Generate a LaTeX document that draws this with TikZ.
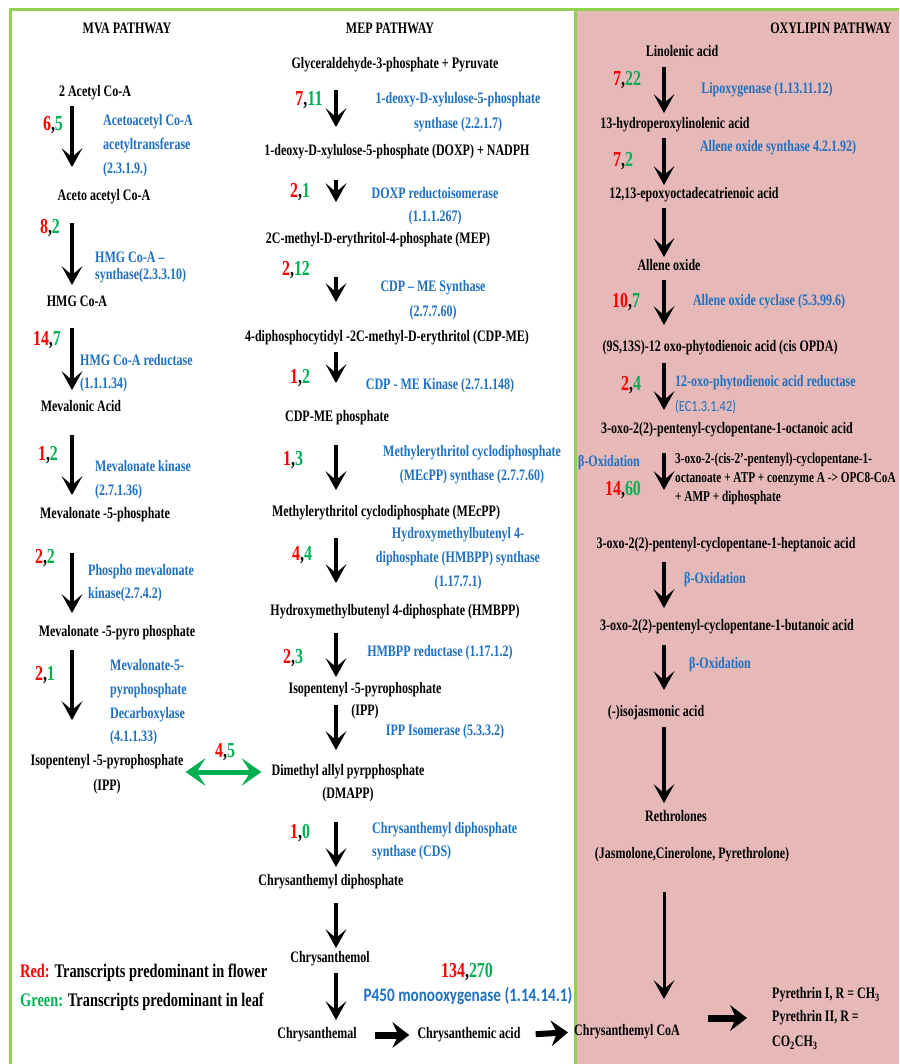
\documentclass[tikz,border=0pt]{standalone}
\usepackage{xcolor}
\usepackage{fontspec}
\setmainfont{Liberation Serif}[FakeStretch=0.75]
\newfontfamily\calfont{Carlito}[FakeStretch=0.8]
\usepackage{tikz}
\usetikzlibrary{arrows.meta, positioning, calc}
\definecolor{myred}{RGB}{255,0,0}
\definecolor{mygreen}{RGB}{0,176,80}
\definecolor{myblue}{RGB}{30,112,192}
\definecolor{myframe}{RGB}{146,208,80}
\definecolor{mypink}{RGB}{230,185,184}
\newcommand{\rg}[2]{\textcolor{myred}{#1},\textcolor{mygreen}{#2}}
\tikzset{
  cpd/.style={inner sep=0pt, text height=10.5pt, text depth=3pt,
    font=\fontsize{16}{19}\selectfont\bfseries},
  enz/.style={inner sep=0pt, text=myblue,
    font=\fontsize{16}{24}\selectfont\bfseries},
  cnt/.style={inner sep=0pt, font=\fontsize{21.3}{24}\selectfont\bfseries},
  leg/.style={inner sep=0pt, font=\fontsize{19.2}{22}\selectfont\bfseries},
  arrow/.style={-{Stealth[length=19pt, width=21pt, inset=9pt, line width=0pt]},
    line width=4pt, color=black},
  bigarrow/.style={-{Stealth[length=17pt, width=26pt, inset=6pt, line width=0pt]},
    line width=7pt, color=black},
  dblarrow/.style={{Stealth[length=20pt, width=28pt, inset=9pt, line width=0pt]}-{Stealth[length=20pt, width=28pt, inset=9pt, line width=0pt]},
    line width=5pt, color=mygreen}
}

\begin{document}
\begin{tikzpicture}[x=1pt, y=-1pt]
  \useasboundingbox (0,0) rectangle (899,1064);

  % Panels
  \fill[mypink] (575,10) rectangle (899,1064);
  \draw[myframe, line width=3pt] (10,1064) -- (10,10) -- (899,10);
  \draw[myframe, line width=3pt] (575,10) -- (575,1064);
  \coordinate (mvax) at (72,0);
  \coordinate (mepx) at (336,0);
  \coordinate (oxyx) at (664,0);

  % MVA pathway
  \node[cpd] (mvahdr) at (127,30) {MVA PATHWAY};
  \node[cpd] (acetyl) at (95,93) {2 Acetyl Co-A};
  \node[cpd] (aceto) at (104,197) {Aceto acetyl Co-A};
  \node[cpd] (hmg) at (77,303) {HMG Co-A};
  \node[cpd] (mevac) at (81,408) {Mevalonic Acid};
  \node[cpd] (mvp) at (105,515) {Mevalonate -5-phosphate};
  \node[cpd] (mvpp) at (117,633) {Mevalonate -5-pyro phosphate};
  \node[cpd] (ippa) at (107,762) {Isopentenyl -5-pyrophosphate};
  \node[cpd, below=11pt of ippa] (ippalbl) {(IPP)};

  \node[cnt] (c1) at (53,125) {\rg{6}{5}};
  \node[cnt] (c2) at (50,228) {\rg{8}{2}};
  \node[cnt] (c3) at (47,340) {\rg{14}{7}};
  \node[cnt] (c4) at (48,455) {\rg{1}{2}};
  \node[cnt] (c5) at (45,558) {\rg{2}{2}};
  \node[cnt] (c6) at (45,675) {\rg{2}{1}};

  \node[enz, anchor=west, align=left] (acat) at (103,145.5) {Acetoacetyl Co-A\\acetyltransferase\\(2.3.1.9.)};
  \node[enz, anchor=west, align=left, font=\fontsize{16}{17}\selectfont\bfseries] (hmgs) at (95,267) {HMG Co-A --\\synthase(2.3.3.10)};
  \node[enz, anchor=west, align=left, font=\fontsize{16}{23}\selectfont\bfseries] (hmgr) at (80,373.5) {HMG Co-A reductase\\(1.1.1.34)};
  \node[enz, anchor=west, align=left] (mvk) at (95,480) {Mevalonate kinase\\(2.7.1.36)};
  \node[enz, anchor=west, align=left, font=\fontsize{16}{23}\selectfont\bfseries] (pmk) at (88,583.5) {Phospho mevalonate\\kinase(2.7.4.2)};
  \node[enz, anchor=west, align=left, font=\fontsize{16}{23.7}\selectfont\bfseries] (mvd) at (110,702.5) {Mevalonate-5-\\pyrophosphate\\Decarboxylase\\(4.1.1.33)};

  \draw[arrow, shorten <=6pt, shorten >=23pt] (acetyl.south -| mvax) -- (aceto.north -| mvax);
  \draw[arrow, shorten <=19pt, shorten >=11pt] (aceto.south -| mvax) -- (hmg.north -| mvax);
  \draw[arrow, shorten <=18pt, shorten >=11pt] (hmg.south -| mvax) -- (mevac.north -| mvax);
  \draw[arrow, shorten <=20pt, shorten >=13pt] (mevac.south -| mvax) -- (mvp.north -| mvax);
  \draw[arrow, shorten <=31pt, shorten >=13pt] (mvp.south -| mvax) -- (mvpp.north -| mvax);
  \draw[arrow, shorten <=10pt, shorten >=35pt] (mvpp.south -| mvax) -- (ippa.north -| mvax);

  % MEP pathway
  \node[cpd] (mephdr) at (390,30) {MEP PATHWAY};
  \node[cpd] (gap) at (395,65) {Glyceraldehyde-3-phosphate + Pyruvate};
  \node[cpd] (doxp) at (397,152) {1-deoxy-D-xylulose-5-phosphate (DOXP) + NADPH};
  \node[cpd] (mep) at (378,240) {2C-methyl-D-erythritol-4-phosphate (MEP)};
  \node[cpd] (cdpme) at (387,338) {4-diphosphocytidyl -2C-methyl-D-erythritol (CDP-ME)};
  \node[cpd] (cdpmep) at (337,418) {CDP-ME phosphate};
  \node[cpd] (mecpp) at (386,513) {Methylerythritol cyclodiphosphate (MEcPP)};
  \node[cpd] (hmbpp) at (395,612) {Hydroxymethylbutenyl 4-diphosphate (HMBPP)};
  \node[cpd] (ippb) at (365,690) {Isopentenyl -5-pyrophosphate};
  \node[cpd, below=8pt of ippb] (ippblbl) {(IPP)};
  \node[cpd] (dmapp) at (348,772) {Dimethyl allyl pyrpphosphate};
  \node[cpd, below=9pt of dmapp] (dmapplbl) {(DMAPP)};
  \node[cpd] (cpp) at (331,882) {Chrysanthemyl diphosphate};
  \node[cpd] (chol) at (330,959) {Chrysanthemol};
  \node[cpd] (chal) at (317,1035) {Chrysanthemal};
  \node[cpd] (chacid) at (469,1035) {Chrysanthemic acid};

  \node[cnt] (c7) at (309,100) {\rg{7}{11}};
  \node[cnt] (c8) at (300,192) {\rg{2}{1}};
  \node[cnt] (c9) at (296,270) {\rg{2}{12}};
  \node[cnt] (c10) at (300,378) {\rg{1}{2}};
  \node[cnt] (c11) at (293,460) {\rg{1}{3}};
  \node[cnt] (c12) at (302,555) {\rg{4}{4}};
  \node[cnt] (c13) at (293,658) {\rg{2}{3}};
  \node[cnt] (c14) at (300,833) {\rg{1}{0}};
  \node[cnt] (c15) at (225,752) {\rg{4}{5}};
  \node[cnt] (c16) at (467,972) {\rg{134}{270}};

  \node[enz, align=center, font=\fontsize{16}{25}\selectfont\bfseries] (dxs) at (458,112.5) {1-deoxy-D-xylulose-5-phosphate\\synthase (2.2.1.7)};
  \node[enz, align=center, font=\fontsize{16}{23}\selectfont\bfseries] (dxr) at (435,206.5) {DOXP reductoisomerase\\(1.1.1.267)};
  \node[enz, align=center, font=\fontsize{16}{25}\selectfont\bfseries] (ispd) at (433,300.5) {CDP -- ME Synthase\\(2.7.7.60)};
  \node[enz] (ispe) at (440,386) {CDP - ME Kinase (2.7.1.148)};
  \node[enz, align=center] (ispf) at (472,465) {Methylerythritol cyclodiphosphate\\(MEcPP) synthase (2.7.7.60)};
  \node[enz, align=center] (ispg) at (458,559) {Hydroxymethylbutenyl 4-\\diphosphate (HMBPP) synthase\\(1.17.7.1)};
  \node[enz] (isph) at (440,653) {HMBPP reductase (1.17.1.2)};
  \node[enz] (idi) at (445,732) {IPP Isomerase (5.3.3.2)};
  \node[enz, anchor=west, align=left, font=\fontsize{16}{23}\selectfont\bfseries] (cds) at (372,841.5) {Chrysanthemyl diphosphate\\synthase (CDS)};
  \node[enz, font=\calfont\fontsize{19}{22}\selectfont\bfseries] (p450) at (468,996) {P450 monooxygenase (1.14.14.1)};

  \draw[arrow, shorten <=18pt, shorten >=18pt] (gap.south -| mepx) -- (doxp.north -| mepx);
  \draw[arrow, shorten <=21pt, shorten >=31pt] (doxp.south -| mepx) -- (mep.north -| mepx);
  \draw[arrow, shorten <=30pt, shorten >=29pt] (mep.south -| mepx) -- (cdpme.north -| mepx);
  \draw[arrow, shorten <=7pt, shorten >=28pt] (cdpme.south -| mepx) -- (cdpmep.north -| mepx);
  \draw[arrow, shorten <=20pt, shorten >=16pt] (cdpmep.south -| mepx) -- (mecpp.north -| mepx);
  \draw[arrow, shorten <=18pt, shorten >=22pt] (mecpp.south -| mepx) -- (hmbpp.north -| mepx);
  \draw[arrow, shorten <=14pt, shorten >=6pt] (hmbpp.south -| mepx) -- (ippb.north -| mepx);
  \draw[arrow, shorten <=8pt, shorten >=15pt] (ippb.south -| mepx) -- (dmapp.north -| mepx);
  \draw[arrow, shorten <=20pt, shorten >=8pt] (dmapplbl.south -| mepx) -- (cpp.north -| mepx);
  \draw[arrow, shorten <=14pt, shorten >=4pt] (cpp.south -| mepx) -- (chol.north -| mepx);
  \draw[arrow, shorten <=7pt, shorten >=8pt] (chol.south -| mepx) -- (chal.north -| mepx);
  \draw[dblarrow, shorten <=2pt, shorten >=10pt] (ippa.east |- dmapp.west) -- (dmapp.west);
  \draw[bigarrow, shorten <=18pt, shorten >=8pt] (chal.east) -- (chacid.west);

  % Legend
  \node[leg, anchor=west] (legred) at (20,973) {\textcolor{myred}{Red:} Transcripts predominant in flower};
  \node[leg, anchor=west] (leggreen) at (20,1002) {\textcolor{mygreen}{Green:} Transcripts predominant in leaf};

  % Oxylipin pathway
  \node[cpd] (oxyhdr) at (831,30) {OXYLIPIN PATHWAY};
  \node[cpd] (lin) at (682,53) {Linolenic acid};
  \node[cpd] (hpl) at (675,125) {13-hydroperoxylinolenic acid};
  \node[cpd] (epo) at (694,195) {12,13-epoxyoctadecatrienoic acid};
  \node[cpd] (ao) at (669,267) {Allene oxide};
  \node[cpd] (opda) at (720,348) {(9S,13S)-12 oxo-phytodienoic acid (cis OPDA)};
  \node[cpd] (oct) at (727,430) {3-oxo-2(2)-pentenyl-cyclopentane-1-octanoic acid};
  \node[cpd] (hept) at (726,545) {3-oxo-2(2)-pentenyl-cyclopentane-1-heptanoic acid};
  \node[cpd] (but) at (727,627) {3-oxo-2(2)-pentenyl-cyclopentane-1-butanoic acid};
  \node[cpd] (iso) at (656,713) {(-)isojasmonic acid};
  \node[cpd] (reth) at (676,818) {Rethrolones};
  \node[cpd] (jas) at (692,855) {(Jasmolone,Cinerolone, Pyrethrolone)};
  \node[cpd] (coa) at (627,1032) {Chrysanthemyl CoA};
  \node[cpd, anchor=west] (pyr1) at (772,995) {Pyrethrin I, R = CH\textsubscript{3}};
  \node[cpd, anchor=west] (pyr2) at (772,1018) {Pyrethrin II, R =};
  \node[cpd, anchor=west] (pyr3) at (772,1043) {CO\textsubscript{2}CH\textsubscript{3}};
  \node[inner sep=0pt, anchor=west, align=left, font=\fontsize{15}{19}\selectfont\bfseries] (opc) at (675,479) {3-oxo-2-(cis-2'-pentenyl)-cyclopentane-1-\\octanoate + ATP + coenzyme A -> OPC8-CoA\\+ AMP + diphosphate};

  \node[cnt] (c17) at (627,80) {\rg{7}{22}};
  \node[cnt] (c18) at (623,161) {\rg{7}{2}};
  \node[cnt] (c19) at (626,302) {\rg{10}{7}};
  \node[cnt] (c20) at (631,385) {\rg{2}{4}};
  \node[cnt] (c21) at (623,490) {\rg{14}{60}};

  \node[enz] (lox) at (767,90) {Lipoxygenase (1.13.11.12)};
  \node[enz] (aos) at (778,148) {Allene oxide synthase 4.2.1.92)};
  \node[enz] (aoc) at (769,302) {Allene oxide cyclase (5.3.99.6)};
  \node[enz, anchor=west] (opr) at (675,383) {12-oxo-phytodienoic acid reductase};
  \node[enz, anchor=west, font=\calfont\fontsize{15.5}{18}\selectfont] (oprec) at (675,407) {(EC1.3.1.42)};
  \node[enz] (box1) at (609,463) {β-Oxidation};
  \node[enz] (box2) at (715,580) {β-Oxidation};
  \node[enz] (box3) at (720,665) {β-Oxidation};

  \draw[arrow, shorten <=7pt, shorten >=5pt] (lin.south -| oxyx) -- (hpl.north -| oxyx);
  \draw[arrow, shorten <=6pt, shorten >=3pt] (hpl.south -| oxyx) -- (epo.north -| oxyx);
  \draw[arrow, shorten <=6pt, shorten >=3pt] (epo.south -| oxyx) -- (ao.north -| oxyx);
  \draw[arrow, shorten <=6pt, shorten >=16pt] (ao.south -| oxyx) -- (opda.north -| oxyx);
  \draw[arrow, shorten <=8pt, shorten >=13pt] (opda.south -| oxyx) -- (oct.north -| oxyx);
  \draw[arrow, shorten <=16pt, shorten >=48pt] (oct.south -| oxyx) -- (hept.north -| oxyx);
  \draw[arrow, shorten <=10pt, shorten >=12pt] (hept.south -| oxyx) -- (but.north -| oxyx);
  \draw[arrow, shorten <=11pt, shorten >=16pt] (but.south -| oxyx) -- (iso.north -| oxyx);
  \draw[arrow, shorten <=7pt, shorten >=8pt] (iso.south -| oxyx) -- (reth.north -| oxyx);
  \draw[arrow, line width=3pt, shorten <=30pt, shorten >=26pt] (jas.south -| oxyx) -- (coa.north -| oxyx);
  \draw[bigarrow, line width=6pt, shorten <=15pt, shorten >=6pt] (chacid.east) -- (coa.west);
  \draw[bigarrow, shorten <=28pt, shorten >=25pt] (coa.east |- pyr2.west) -- (pyr2.west);
\end{tikzpicture}
\end{document}
